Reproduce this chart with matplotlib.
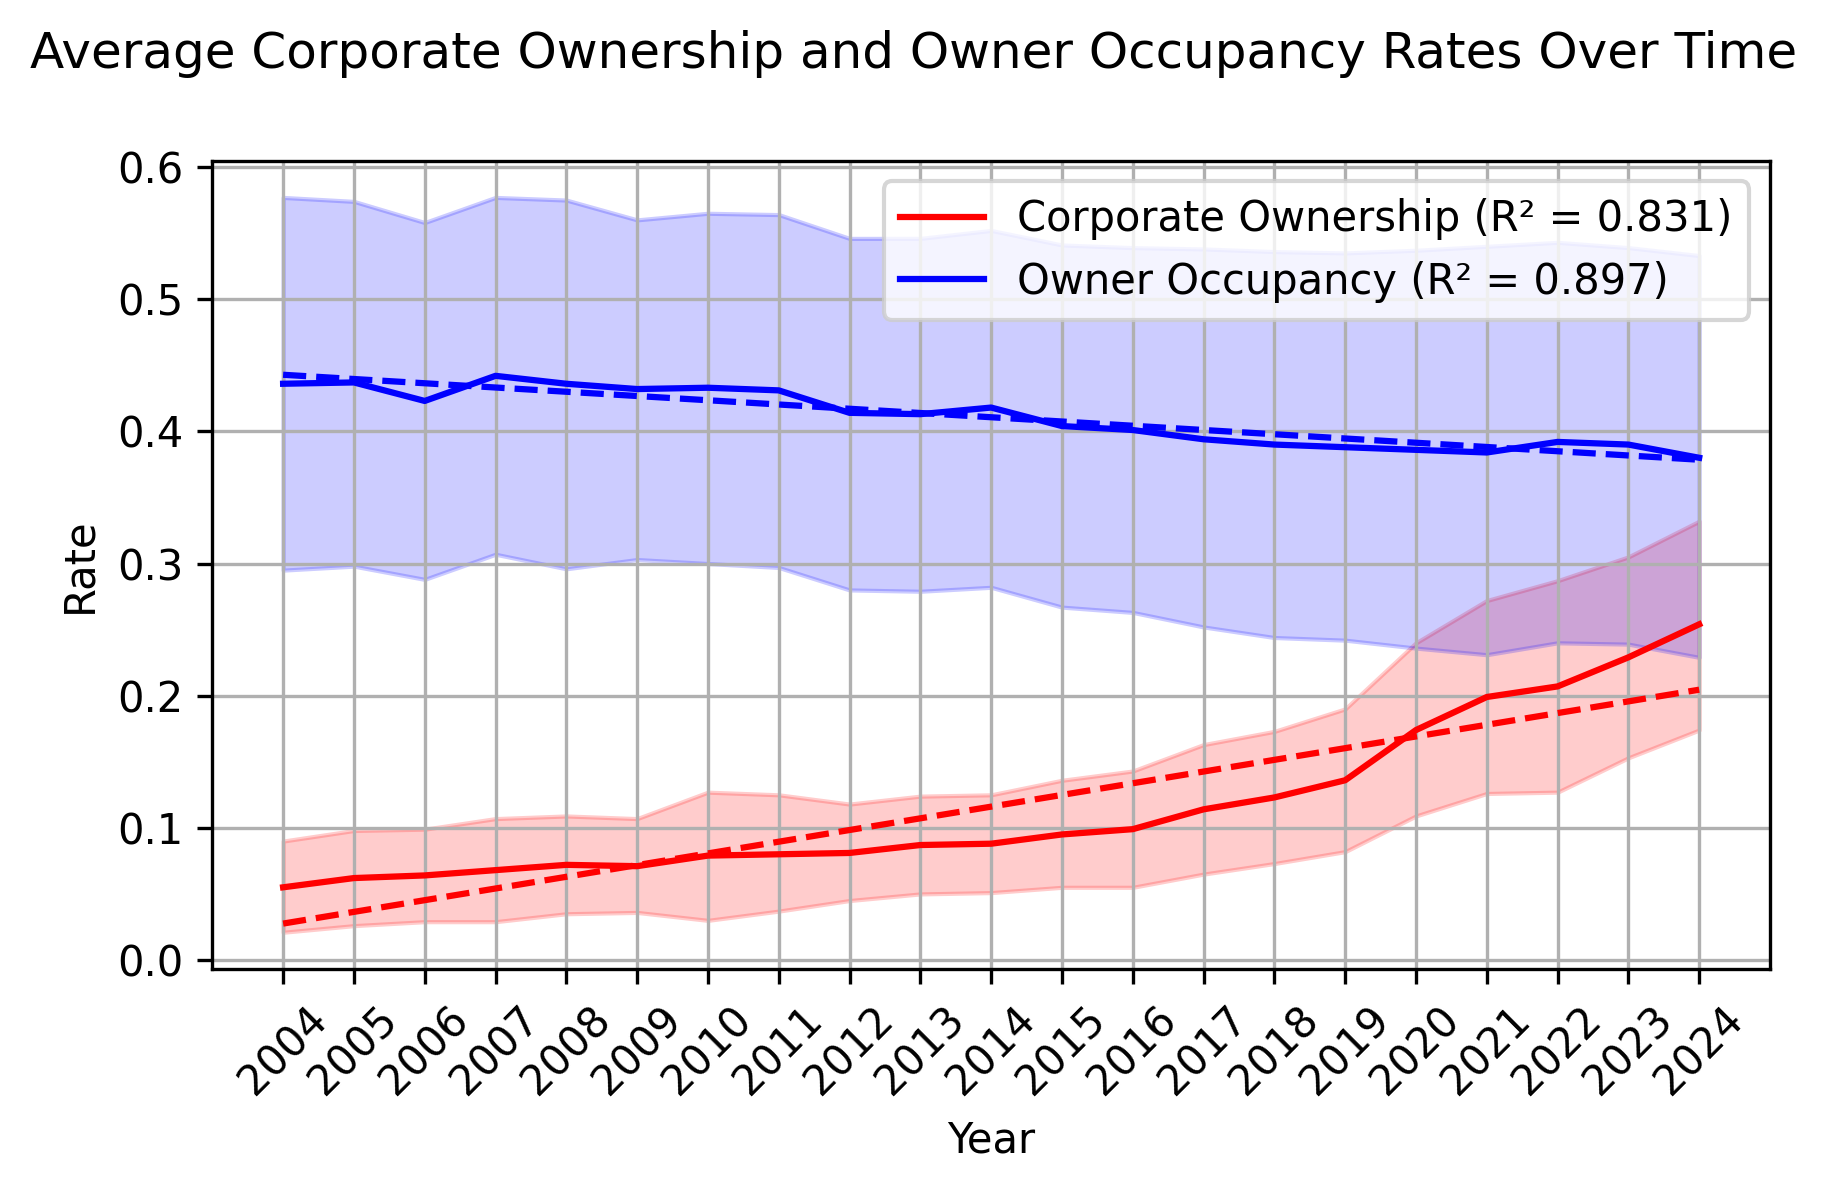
import matplotlib
matplotlib.use("Agg")
import matplotlib.pyplot as plt
import numpy as np

years = list(range(2004, 2025))

# corporate ownership: mean and band
corp_mean = [0.055, 0.062, 0.064, 0.068, 0.072, 0.071, 0.079, 0.080, 0.081, 0.087, 0.088,
             0.095, 0.099, 0.114, 0.123, 0.136, 0.174, 0.199, 0.207, 0.229, 0.254]
corp_upper = [0.090, 0.098, 0.099, 0.107, 0.109, 0.107, 0.127, 0.125, 0.118, 0.124, 0.125,
              0.136, 0.143, 0.163, 0.173, 0.190, 0.240, 0.272, 0.287, 0.305, 0.332]
corp_lower = [0.021, 0.026, 0.029, 0.029, 0.035, 0.036, 0.030, 0.037, 0.045, 0.050, 0.051,
              0.055, 0.055, 0.065, 0.073, 0.082, 0.109, 0.126, 0.127, 0.153, 0.174]

# owner occupancy
occ_mean = [0.436, 0.437, 0.423, 0.442, 0.436, 0.432, 0.433, 0.431, 0.414, 0.413, 0.418,
            0.404, 0.401, 0.394, 0.390, 0.388, 0.386, 0.384, 0.392, 0.390, 0.380]
occ_upper = [0.577, 0.574, 0.558, 0.577, 0.575, 0.560, 0.565, 0.564, 0.546, 0.546, 0.552,
             0.541, 0.539, 0.538, 0.536, 0.535, 0.537, 0.540, 0.543, 0.539, 0.533]
occ_lower = [0.295, 0.298, 0.288, 0.307, 0.296, 0.303, 0.300, 0.297, 0.280, 0.279, 0.282,
             0.267, 0.263, 0.252, 0.244, 0.242, 0.236, 0.231, 0.240, 0.239, 0.229]

corp_r2 = "0.831"
occ_r2 = "0.897"


def plot_series(ax, mean, lower, upper, color, label):
    x = np.array(years)
    ax.plot(x, mean, color=color, label=label)
    ax.fill_between(x, lower, upper, color=color, alpha=0.2)
    slope, intercept = np.polyfit(x, mean, 1)
    ax.plot(x, slope * x + intercept, color=color, linestyle='--')


fig = plt.figure(figsize=(1827 / 300, 1191 / 300), dpi=300)
ax = fig.add_axes([0.1162, 0.1864, 0.9688 - 0.1162, 0.8651 - 0.1864])

plot_series(ax, corp_mean, corp_lower, corp_upper, 'red',
            'Corporate Ownership (R\u00b2 = ' + corp_r2 + ')')
plot_series(ax, occ_mean, occ_lower, occ_upper, 'blue',
            'Owner Occupancy (R\u00b2 = ' + occ_r2 + ')')

ax.set_xticks(years)
ax.set_xticklabels([str(y) for y in years], rotation=45)
ax.set_xlabel('Year')
ax.set_ylabel('Rate')
ax.grid(True)
ax.legend(loc='upper right')
fig.text(0.5, 0.955, 'Average Corporate Ownership and Owner Occupancy Rates Over Time',
         ha='center', va='center', fontsize=12)

fig.savefig('out.png', dpi=300)
